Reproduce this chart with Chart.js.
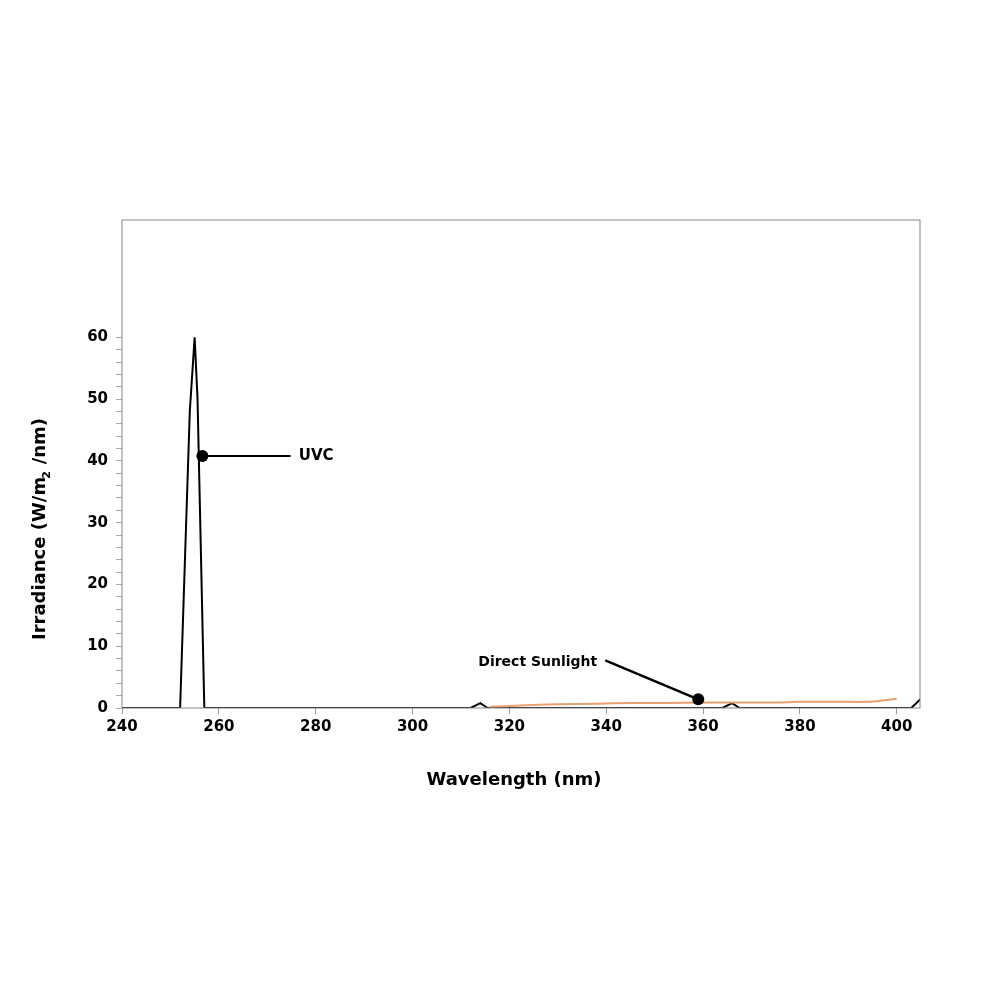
<!DOCTYPE html>
<html>
<head>
<meta charset="utf-8">
<script src="https://cdn.jsdelivr.net/npm/chart.js@4"></script>
<style>
  body { margin: 0; background: #fff; }
  #wrap { width: 1000px; height: 1000px; }
</style>
</head>
<body>
<div id="wrap"><canvas id="c"></canvas></div>
<script>
// lamp spectrum (black) and sunlight (orange)
const uvcX = [240, 252, 254, 255, 255.6, 257, 312, 314, 315.5, 364, 366, 367.5, 403, 405];
const uvcY = [0, 0, 48, 60, 50, 0, 0, 0.8, 0, 0, 0.8, 0, 0, 1.5];
const sunX = [316, 322, 330, 338, 345, 352, 360, 368, 375, 380, 388, 394, 397, 400];
const sunY = [0.2, 0.4, 0.6, 0.7, 0.8, 0.8, 0.9, 0.9, 0.9, 1.0, 1.0, 1.0, 1.2, 1.5];
const xTicks = [240, 260, 280, 300, 320, 340, 360, 380, 400];
const yLabels = [0, 10, 20, 30, 40, 50, 60];

const FONT = '"DejaVu Sans", sans-serif';

function pts(xs, ys) {
  return xs.map((x, i) => ({ x: x, y: ys[i] }));
}

// callouts, axis titles and frame
const decor = {
  id: 'decor',
  afterDraw(chart) {
    const ctx = chart.ctx, a = chart.chartArea;
    const xs = chart.scales.x, ys = chart.scales.y;
    ctx.save();
    ctx.strokeStyle = '#888';
    ctx.lineWidth = 1;
    ctx.strokeRect(a.left, a.top, a.right - a.left, a.bottom - a.top);

    ctx.fillStyle = '#000';
    ctx.strokeStyle = '#000';
    ctx.lineWidth = 2;
    // UVC
    let dx = xs.getPixelForValue(256.6), dy = ys.getPixelForValue(40.8);
    ctx.beginPath();
    ctx.moveTo(dx, dy);
    ctx.lineTo(xs.getPixelForValue(274.8), dy);
    ctx.stroke();
    ctx.beginPath(); ctx.arc(dx, dy, 6, 0, Math.PI * 2); ctx.fill();
    ctx.font = 'bold 15px ' + FONT;
    ctx.textBaseline = 'middle';
    ctx.textAlign = 'left';
    ctx.fillText('UVC', xs.getPixelForValue(276.5), dy);
    // Direct Sunlight
    dx = xs.getPixelForValue(359); dy = ys.getPixelForValue(1.4);
    const lx = xs.getPixelForValue(339.8), ly = ys.getPixelForValue(7.7);
    ctx.lineWidth = 2.5;
    ctx.beginPath(); ctx.moveTo(lx, ly); ctx.lineTo(dx, dy); ctx.stroke();
    ctx.beginPath(); ctx.arc(dx, dy, 6, 0, Math.PI * 2); ctx.fill();
    ctx.textAlign = 'right';
    ctx.font = 'bold 14px ' + FONT;
    ctx.fillText('Direct Sunlight', lx - 8, ys.getPixelForValue(7.4));

    // axis titles
    ctx.font = 'bold 18px ' + FONT;
    ctx.textAlign = 'center';
    ctx.fillText('Wavelength (nm)', (a.left + a.right) / 2 - 7, 780);
    ctx.translate(40, (a.top + a.bottom) / 2 + 65);
    ctx.rotate(-Math.PI / 2);
    ctx.fillText('Irradiance (W/m  /nm)', 0, 0);
    ctx.font = 'bold 11px ' + FONT;
    const w = ctx.measureText ? 0 : 0;
    ctx.fillText('2', 54, 7);
    ctx.restore();
  }
};

new Chart(document.getElementById('c'), {
  type: 'line',
  data: {
    datasets: [
      {
        data: pts(sunX, sunY),
        borderColor: '#e8a070',
        borderWidth: 2,
        pointRadius: 0,
        tension: 0.3
      },
      {
        data: pts(uvcX, uvcY),
        borderColor: '#000',
        borderWidth: 2,
        pointRadius: 0,
        tension: 0
      }
    ]
  },
  options: {
    responsive: true,
    maintainAspectRatio: false,
    animation: false,
    layout: { padding: { left: 0, top: 220, right: 80, bottom: 0 } },
    plugins: { legend: { display: false }, tooltip: { enabled: false } },
    scales: {
      x: {
        type: 'linear',
        min: 240,
        max: 404.8,
        afterFit: s => { s.height = 292; },
        afterBuildTicks: s => { s.ticks = xTicks.map(v => ({ value: v })); },
        grid: { drawOnChartArea: false, color: '#999', tickLength: 6 },
        border: { display: false },
        ticks: { color: '#000', font: { family: FONT, size: 15, weight: 'bold' }, padding: 4, maxRotation: 0 }
      },
      y: {
        min: 0,
        max: 79,
        afterFit: s => { s.width = 122; },
        grid: {
          drawOnChartArea: false,
          tickLength: 6,
          color: c => (c.tick && c.tick.value > 60 ? 'rgba(0,0,0,0)' : '#aaa')
        },
        border: { display: false },
        ticks: {
          stepSize: 2,
          autoSkip: false,
          color: '#000',
          font: { family: FONT, size: 15, weight: 'bold' },
          padding: 8,
          callback: v => (yLabels.includes(v) ? String(v) : '')
        }
      }
    }
  },
  plugins: [decor]
});
</script>
</body>
</html>
